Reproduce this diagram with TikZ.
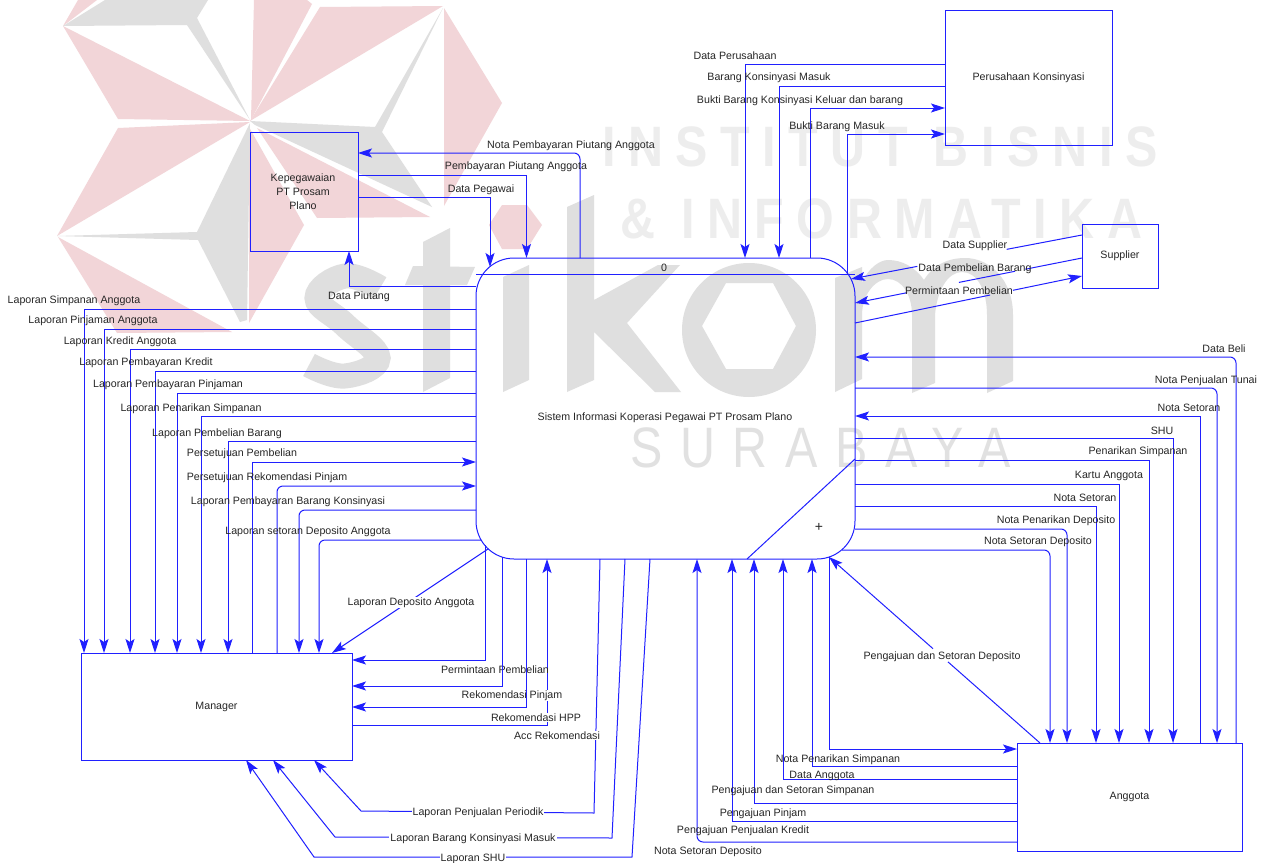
\documentclass[tikz,border=0pt]{standalone}
\usepackage{fontspec}
\setmainfont{Liberation Sans}
\newfontfamily\wmfont[LetterSpace=22,FakeStretch=0.85]{Liberation Sans}
\newfontfamily\wmthin[LetterSpace=31,FakeStretch=0.85]{Liberation Sans}
\usetikzlibrary{arrows.meta,calc}
\definecolor{wmpink}{HTML}{F2D5D8}
\definecolor{wmgray}{HTML}{DFDFDF}
\definecolor{wmtext}{HTML}{EDEDED}
\definecolor{flowblue}{HTML}{2020FF}
\definecolor{labtext}{HTML}{262626}
\tikzset{
  flow/.style={draw=flowblue,line width=1pt},
  arr/.style={flow,-{Stealth[length=14pt,width=9pt,inset=3pt]}},
  ent/.style={draw=flowblue,line width=1pt,rectangle,inner sep=0pt,outer sep=0pt,align=center,font=\fontsize{10.65}{14}\selectfont,text=labtext},
  lab/.style={font=\fontsize{10.65}{12}\selectfont,text=labtext,inner sep=0pt,yshift=-1.5pt},
  wlab/.style={lab,fill=white,inner sep=1pt},
  rc/.style={rounded corners=6pt},
  pk/.style={fill=wmpink,draw=none},
  gy/.style={fill=wmgray,draw=none}
}
\begin{document}
\begin{tikzpicture}[x=1pt,y=-1pt]
\useasboundingbox (0,0) rectangle (1266,862);
\fill[white] (0,0) rectangle (1266,862);
% watermark: pinwheel
\fill[pk] (320,7)--(443,6)--(250,121)--cycle;
\fill[pk] (254,0)--(307,0)--(312,4)--(251,120)--cycle;
\fill[pk] (63,26)--(250,121)--(118,119)--cycle;
\fill[pk] (63,26)--(78,0)--(97,0)--cycle;
\fill[pk] (118,128)--(250,122)--(57,236)--cycle;
\fill[pk] (58,237)--(232,332)--(117,333)--cycle;
\fill[pk] (249,127)--(304,225)--(249,323)--cycle;
\fill[pk] (257,128)--(430,217)--(317,218)--cycle;
\fill[pk] (444,8)--(502,103)--(444,206)--cycle;
\fill[pk] (502,205)--(527,205)--(542,225)--(527,249)--(502,249)--(489,225)--cycle;
\fill[gy] (63,26)--(105,0)--(208,0)--(197,18)--(250,120)--(187,25)--cycle;
\fill[gy] (250,121)--(375,127)--(443,8)--(382,132)--(432,207)--(255,125)--cycle;
\fill[gy] (57,236)--(197,232)--(250,123)--(247,320)--(240,322)--(198,240)--cycle;
% watermark: letters
\draw[wmgray,line width=25pt,line cap=butt] plot[smooth,tension=0.7] coordinates {(380,288) (345,276) (317,298) (345,325) (378,358) (345,376) (309,365)};
\fill[gy] (423,242)--(450,228)--(450,378)--(423,392)--cycle;
\fill[gy] (413,266)--(475,267)--(467,285)--(405,285)--cycle;
\fill[gy] (503,277)--(529,265)--(529,380)--(503,392)--cycle;
\fill[gy] (567,207)--(594,195)--(594,300)--(658,265)--(680,265)--(627,323)--(681,392)--(655,392)--(594,332)--(594,380)--(567,392)--cycle;
\fill[gy,even odd rule] (749,330) circle (67) (726,283)--(773,283)--(796,326)--(773,369)--(726,369)--(702,326)--cycle;
\fill[gy] (835,392)--(862,379)--(862,315) .. controls (862,295) and (875,279) .. (888,279) .. controls (902,279) and (912,295) .. (912,315)--(912,393)--(935,383)--(935,315) .. controls (937,290) and (948,272) .. (962,272) .. controls (977,272) and (987,290) .. (987,315)--(987,393)--(1013,381)--(1013,315) .. controls (1013,280) and (990,258) .. (965,258) .. controls (948,258) and (933,265) .. (924,280) .. controls (915,267) and (902,260) .. (888,260) .. controls (880,260) and (868,268) .. (862,283)--(862,267)--(835,278)--cycle;
\node[anchor=west,inner sep=0pt,text=wmtext,font=\wmfont\bfseries\fontsize{57}{57}\selectfont] (wm1) at (602,147) {INSTITUT BISNIS};
\node[anchor=west,inner sep=0pt,text=wmtext,font=\wmfont\bfseries\fontsize{57}{57}\selectfont] (wm2) at (620,219) {\& INFORMATIKA};
\node[anchor=west,inner sep=0pt,text=wmtext!95!black,font=\wmthin\fontsize{57}{57}\selectfont] (wm3) at (630,448) {SURABAYA};
% nodes
\node[ent,minimum width=167pt,minimum height=135pt] (peru) at (1028.5,77.5) {Perusahaan Konsinyasi};
\node[ent,minimum width=76pt,minimum height=64pt] (supp) at (1120,256) {Supplier};
\node[ent,minimum width=108pt,minimum height=119pt,text depth=0pt] (kepe) at (304,191.5) {};
\node[lab,align=center,font=\fontsize{10.65}{14}\selectfont] (kepet) at (303,190) {Kepegawaian\\PT Prosam\\Plano};
\node[ent,minimum width=379pt,minimum height=301pt,rounded corners=38pt] (proc) at (665.5,408.5) {};
\node[ent,minimum width=271pt,minimum height=107pt] (mgr) at (216.5,706.5) {Manager};
\node[ent,minimum width=225pt,minimum height=108pt] (angg) at (1129.5,797) {Anggota};
\node[lab] (ptext) at (665,416) {Sistem Informasi Koperasi Pegawai PT Prosam Plano};
\node[lab] (pid) at (664,266) {0};
\node[lab,font=\fontsize{14}{14}\selectfont] (pplus) at (819,526) {+};
\draw[flow] (proc.west |- 0,274) -- (proc.east |- 0,274);
\draw[flow] (proc.east |- 0,459) -- (747,0 |- proc.south);
% Kepegawaian
\coordinate (pegin) at (490,267);
\draw[arr,rc] (580,0 |- proc.north) |- (kepe.east |- 0,153);
\draw[arr] (kepe.east |- 0,175) -| (526.5,0 |- proc.north);
\draw[arr] (kepe.east |- 0,197) -| (pegin);
\draw[arr] (proc.west |- 0,286) -| (349,0 |- kepe.south);
\node[lab] (lnpp) at (571,144) {Nota Pembayaran Piutang Anggota};
\node[lab] (lppa) at (516,165) {Pembayaran Piutang Anggota};
\node[lab] (ldpg) at (481,188) {Data Pegawai};
\node[lab] (ldpi) at (359,295) {Data Piutang};
% Perusahaan
\coordinate (bbmout) at (847,273);
\draw[arr] (peru.west |- 0,64) -| (745,0 |- proc.north);
\draw[arr] (peru.west |- 0,86) -| (779,0 |- proc.north);
\draw[arr] (810,0 |- proc.north) |- (peru.west |- 0,108);
\draw[arr] (bbmout) |- (peru.west |- 0,134);
\node[lab] (ldpr) at (735,54) {Data Perusahaan};
\node[lab] (lbkm) at (769,76) {Barang Konsinyasi Masuk};
\node[lab] (lbkk) at (800,99) {Bukti Barang Konsinyasi Keluar dan barang};
\node[lab] (lbbm) at (837,125) {Bukti Barang Masuk};
% Supplier
\coordinate (s1) at (supp.west |- 0,235);
\coordinate (p1) at (851,279);
\coordinate (s2) at (supp.west |- 0,258);
\coordinate (p2) at (proc.east |- 0,303);
\coordinate (s3) at (supp.west |- 0,276);
\coordinate (p3) at (proc.east |- 0,323);
\draw[flow] (s1) -- ($(s1)!.326!(p1)$);
\draw[arr] ($(s1)!.713!(p1)$) -- (p1);
\draw[flow] (s2) -- ($(s2)!.25!(p2)$);
\draw[flow] ($(s2)!.295!(p2)$) -- ($(s2)!.542!(p2)$);
\draw[arr] ($(s2)!.771!(p2)$) -- (p2);
\draw[flow] (p3) -- ($(p3)!.595!(s3)$);
\draw[arr] ($(p3)!.696!(s3)$) -- (s3);
\node[lab] (ldsu) at (975,244) {Data Supplier};
\node[lab] (ldpb) at (975,267) {Data Pembelian Barang};
\node[lab] (lpmb) at (959,289) {Permintaan Pembelian};
% Process -> Manager, left side
\draw[arr] (proc.west |- 0,309) -| (84,0 |- mgr.north);
\draw[arr] (proc.west |- 0,329) -| (104,0 |- mgr.north);
\draw[arr] (proc.west |- 0,349) -| (130,0 |- mgr.north);
\draw[arr] (proc.west |- 0,371) -| (155,0 |- mgr.north);
\draw[arr] (proc.west |- 0,393) -| (177,0 |- mgr.north);
\draw[arr] (proc.west |- 0,416) -| (201,0 |- mgr.north);
\draw[arr] (proc.west |- 0,441) -| (228,0 |- mgr.north);
\draw[arr] (252,0 |- mgr.north) |- (proc.west |- 0,462);
\draw[arr,rc] (277,0 |- mgr.north) |- (proc.west |- 0,486);
\draw[arr,rc] (proc.west |- 0,510) -| (299,0 |- mgr.north);
\coordinate (sdout) at (481,540);
\draw[arr,rc] (sdout) -| (319,0 |- mgr.north);
\node[lab] (l01) at (74,299) {Laporan Simpanan Anggota};
\node[lab] (l02) at (93,319) {Laporan Pinjaman Anggota};
\node[lab] (l03) at (120,340) {Laporan Kredit Anggota};
\node[lab] (l04) at (146,361) {Laporan Pembayaran Kredit};
\node[lab] (l05) at (168,383) {Laporan Pembayaran Pinjaman};
\node[lab] (l06) at (191,407) {Laporan Penarikan Simpanan};
\node[lab] (l07) at (217,432) {Laporan Pembelian Barang};
\node[lab] (l08) at (242,452) {Persetujuan Pembelian};
\node[lab] (l09) at (267,476) {Persetujuan Rekomendasi Pinjam};
\node[lab] (l10) at (288,500) {Laporan Pembayaran Barang Konsinyasi};
\node[lab] (l11) at (308,530) {Laporan setoran Deposito Anggota};
% bottom-left
\coordinate (ldout) at (488,549);
\draw[arr] (ldout) -- (332,0 |- mgr.north);
\node[wlab] (l12) at (411,601) {Laporan Deposito Anggota};
\draw[arr] (mgr.east |- 0,725) -| (547,0 |- proc.south);
\node[wlab] (l14) at (512,694) {Rekomendasi Pinjam};
\node[wlab] (l15) at (536,716) {Rekomendasi HPP};
\node[lab] (l13) at (495,668) {Permintaan Pembelian};
\coordinate (ppout) at (485,545);
\coordinate (rpout) at (502,557);
\draw[arr] (ppout) |- (mgr.east |- 0,660);
\draw[arr] (rpout) |- (mgr.east |- 0,686);
\draw[arr] (526,0 |- proc.south) |- (mgr.east |- 0,707);
\draw[arr] (600,0 |- proc.south) -- (594,813) -- (361,811) -- (314,0 |- mgr.south);
\node[wlab] (l16) at (557,734) {Acc Rekomendasi};
\draw[arr] (625,0 |- proc.south) -- (612,838) -- (335,837) -- (273,0 |- mgr.south);
\draw[arr] (650,0 |- proc.south) -- (632,857) -- (314,857) -- (246,0 |- mgr.south);
\node[wlab] (l17) at (478,811) {Laporan Penjualan Periodik};
\node[wlab] (l18) at (473,837) {Laporan Barang Konsinyasi Masuk};
\node[wlab] (l19) at (473,857) {Laporan SHU};
% Anggota -> process bottom
\draw[arr,rc] (angg.west |- 0,842) -| (697,0 |- proc.south);
\draw[arr] (angg.west |- 0,821) -| (732,0 |- proc.south);
\draw[arr] (angg.west |- 0,803) -| (754,0 |- proc.south);
\draw[arr] (angg.west |- 0,779) -| (783,0 |- proc.south);
\draw[arr] (angg.west |- 0,766) -| (812,0 |- proc.south);
\coordinate (npsout) at (829,557);
\draw[arr] (npsout) |- (angg.west |- 0,749);
\draw[flow] (1040,0 |- angg.north) -- ($(1040,0 |- angg.north)!.436!(npsout)$);
\draw[arr] ($(1040,0 |- angg.north)!.507!(npsout)$) -- (npsout);
\node[lab] (l20) at (708,850) {Nota Setoran Deposito};
\node[lab] (l21) at (743,829) {Pengajuan Penjualan Kredit};
\node[lab] (l22) at (763,812) {Pengajuan Pinjam};
\node[lab] (l23) at (793,789) {Pengajuan dan Setoran Simpanan};
\node[lab] (l24) at (822,774) {Data Anggota};
\node[lab] (l25) at (838,758) {Nota Penarikan Simpanan};
\node[lab] (l26) at (942,655) {Pengajuan dan Setoran Deposito};
% right side
\coordinate (nsdout) at (842,550);
\draw[arr,rc] (nsdout) -| (1050,0 |- angg.north);
\draw[arr,rc] (proc.east |- 0,529) -| (1067,0 |- angg.north);
\draw[arr] (proc.east |- 0,506) -| (1096,0 |- angg.north);
\draw[arr] (proc.east |- 0,484) -| (1119,0 |- angg.north);
\draw[arr] (proc.east |- 0,460) -| (1149,0 |- angg.north);
\draw[arr] (proc.east |- 0,438) -| (1173,0 |- angg.north);
\draw[arr] (1200,0 |- angg.north) |- (proc.east |- 0,416);
\draw[arr,rc] (proc.east |- 0,388) -| (1217,0 |- angg.north);
\draw[arr,rc] (1236,0 |- angg.north) |- (proc.east |- 0,357);
\node[lab] (l27) at (1038,540) {Nota Setoran Deposito};
\node[lab] (l28) at (1056,519) {Nota Penarikan Deposito};
\node[lab] (l29) at (1085,496) {Nota Setoran};
\node[lab] (l30) at (1109,474) {Kartu Anggota};
\node[lab] (l31) at (1138,450) {Penarikan Simpanan};
\node[lab] (l32) at (1162,429) {SHU};
\node[lab] (l33) at (1189,406) {Nota Setoran};
\node[lab] (l34) at (1206,379) {Nota Penjualan Tunai};
\node[lab] (l35) at (1224,347) {Data Beli};
\end{tikzpicture}
\end{document}
